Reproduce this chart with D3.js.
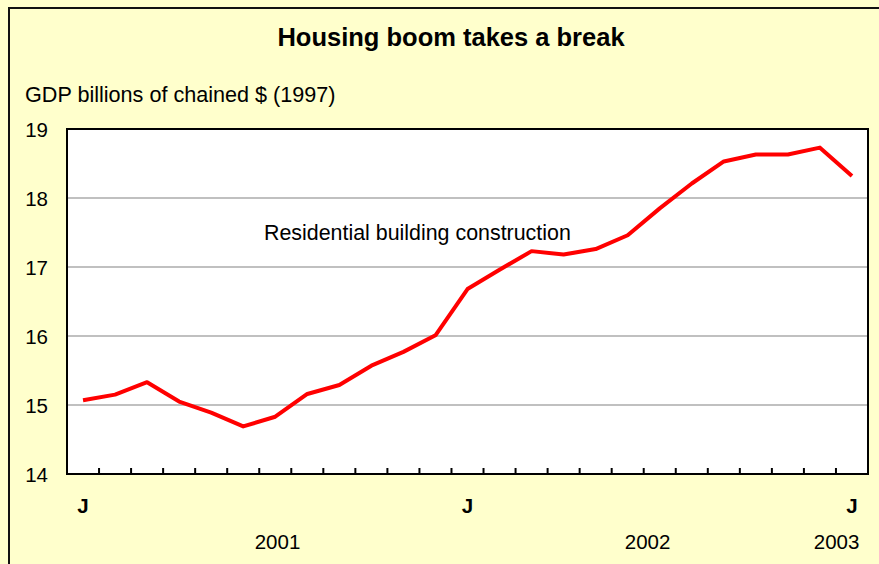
<!DOCTYPE html>
<html>
<head>
<meta charset="utf-8">
<script src="https://cdn.jsdelivr.net/npm/d3@7"></script>
<style>
  body { margin: 0; background: #ffffcc; }
  svg { display: block; font-family: "Liberation Sans", Arial, sans-serif; }
</style>
</head>
<body>
<div id="chart"></div>
<script>
// monthly data, Jan 2001 .. Jan 2003
const months = d3.range(25).map(i => new Date(2001, i, 1))
const values = [15.07, 15.15, 15.33, 15.05, 14.89, 14.69, 14.83, 15.16, 15.29, 15.57, 15.77, 16.01,
  16.68, 16.96, 17.23, 17.18, 17.26, 17.46, 17.85, 18.21, 18.53, 18.63, 18.63, 18.73, 18.32]
const yTicks = [14, 15, 16, 17, 18, 19]
const monthLabels = [{ i: 0, t: 'J' }, { i: 12, t: 'J' }, { i: 24, t: 'J' }]
const yearLabels = [{ pos: 6.57, t: '2001' }, { pos: 18.12, t: '2002' }, { pos: 24.02, t: '2003' }]

const W = 879, H = 564
const margin = { top: 129, right: 11, bottom: 90, left: 67 },
  width = W - margin.left - margin.right,
  height = H - margin.top - margin.bottom

const svg = d3.select('#chart').append('svg')
  .attr('width', W)
  .attr('height', H)

// outer frame
svg.append('rect')
  .attr('x', 9).attr('y', 8)
  .attr('width', W + 10).attr('height', H + 10)
  .attr('fill', '#ffffcc')
  .attr('stroke', '#111').attr('stroke-width', 2)

svg.append('text')
  .attr('x', 451).attr('y', 46)
  .attr('text-anchor', 'middle')
  .style('font-size', '25.5px').style('font-weight', 'bold')
  .text('Housing boom takes a break')

svg.append('text')
  .attr('x', 25).attr('y', 102)
  .style('font-size', '21.6px')
  .text('GDP billions of chained $ (1997)')

const g = svg.append('g').attr('transform', `translate(${margin.left},${margin.top})`)

const x = d3.scaleBand().domain(d3.range(months.length)).range([0, width])
const y = d3.scaleLinear().domain([14, 19]).range([height, 0])

g.append('rect')
  .attr('width', width).attr('height', height)
  .attr('fill', '#fff')

// gridlines
g.selectAll('.grid')
  .data(yTicks.filter(d => d > 14 && d < 19))
  .join('line')
  .attr('class', 'grid')
  .attr('x1', 0).attr('x2', width)
  .attr('y1', d => y(d)).attr('y2', d => y(d))
  .attr('stroke', '#c0c0c0').attr('stroke-width', 2)

// y labels
g.selectAll('.ylab')
  .data(yTicks)
  .join('text')
  .attr('class', 'ylab')
  .attr('x', -19).attr('y', d => y(d) + 8)
  .attr('text-anchor', 'end')
  .style('font-size', '20.5px')
  .text(d => d)

// x ticks at band boundaries, pointing inward
g.selectAll('.xtick')
  .data(d3.range(1, months.length))
  .join('line')
  .attr('class', 'xtick')
  .attr('x1', d => x(d)).attr('x2', d => x(d))
  .attr('y1', height).attr('y2', height - 6)
  .attr('stroke', '#000').attr('stroke-width', 2)

const line = d3.line()
  .x((d, i) => x(i) + x.bandwidth() / 2)
  .y(d => y(d))

g.append('path')
  .datum(values)
  .attr('d', line)
  .attr('fill', 'none')
  .attr('stroke', '#ff0000')
  .attr('stroke-width', 4)
  .attr('stroke-linejoin', 'round')

// plot frame
g.append('rect')
  .attr('width', width).attr('height', height)
  .attr('fill', 'none')
  .attr('stroke', '#000').attr('stroke-width', 2)

g.append('text')
  .attr('x', 197).attr('y', 111)
  .style('font-size', '21.4px')
  .text('Residential building construction')

g.selectAll('.mlab')
  .data(monthLabels)
  .join('text')
  .attr('class', 'mlab')
  .attr('x', d => x(d.i) + x.bandwidth() / 2)
  .attr('y', height + 39)
  .attr('text-anchor', 'middle')
  .style('font-size', '20.5px').style('font-weight', 'bold')
  .text(d => d.t)

g.selectAll('.ylabel')
  .data(yearLabels)
  .join('text')
  .attr('class', 'ylabel')
  .attr('x', d => d.pos * x.step())
  .attr('y', height + 75)
  .attr('text-anchor', 'middle')
  .style('font-size', '20.5px')
  .text(d => d.t)
</script>
</body>
</html>
